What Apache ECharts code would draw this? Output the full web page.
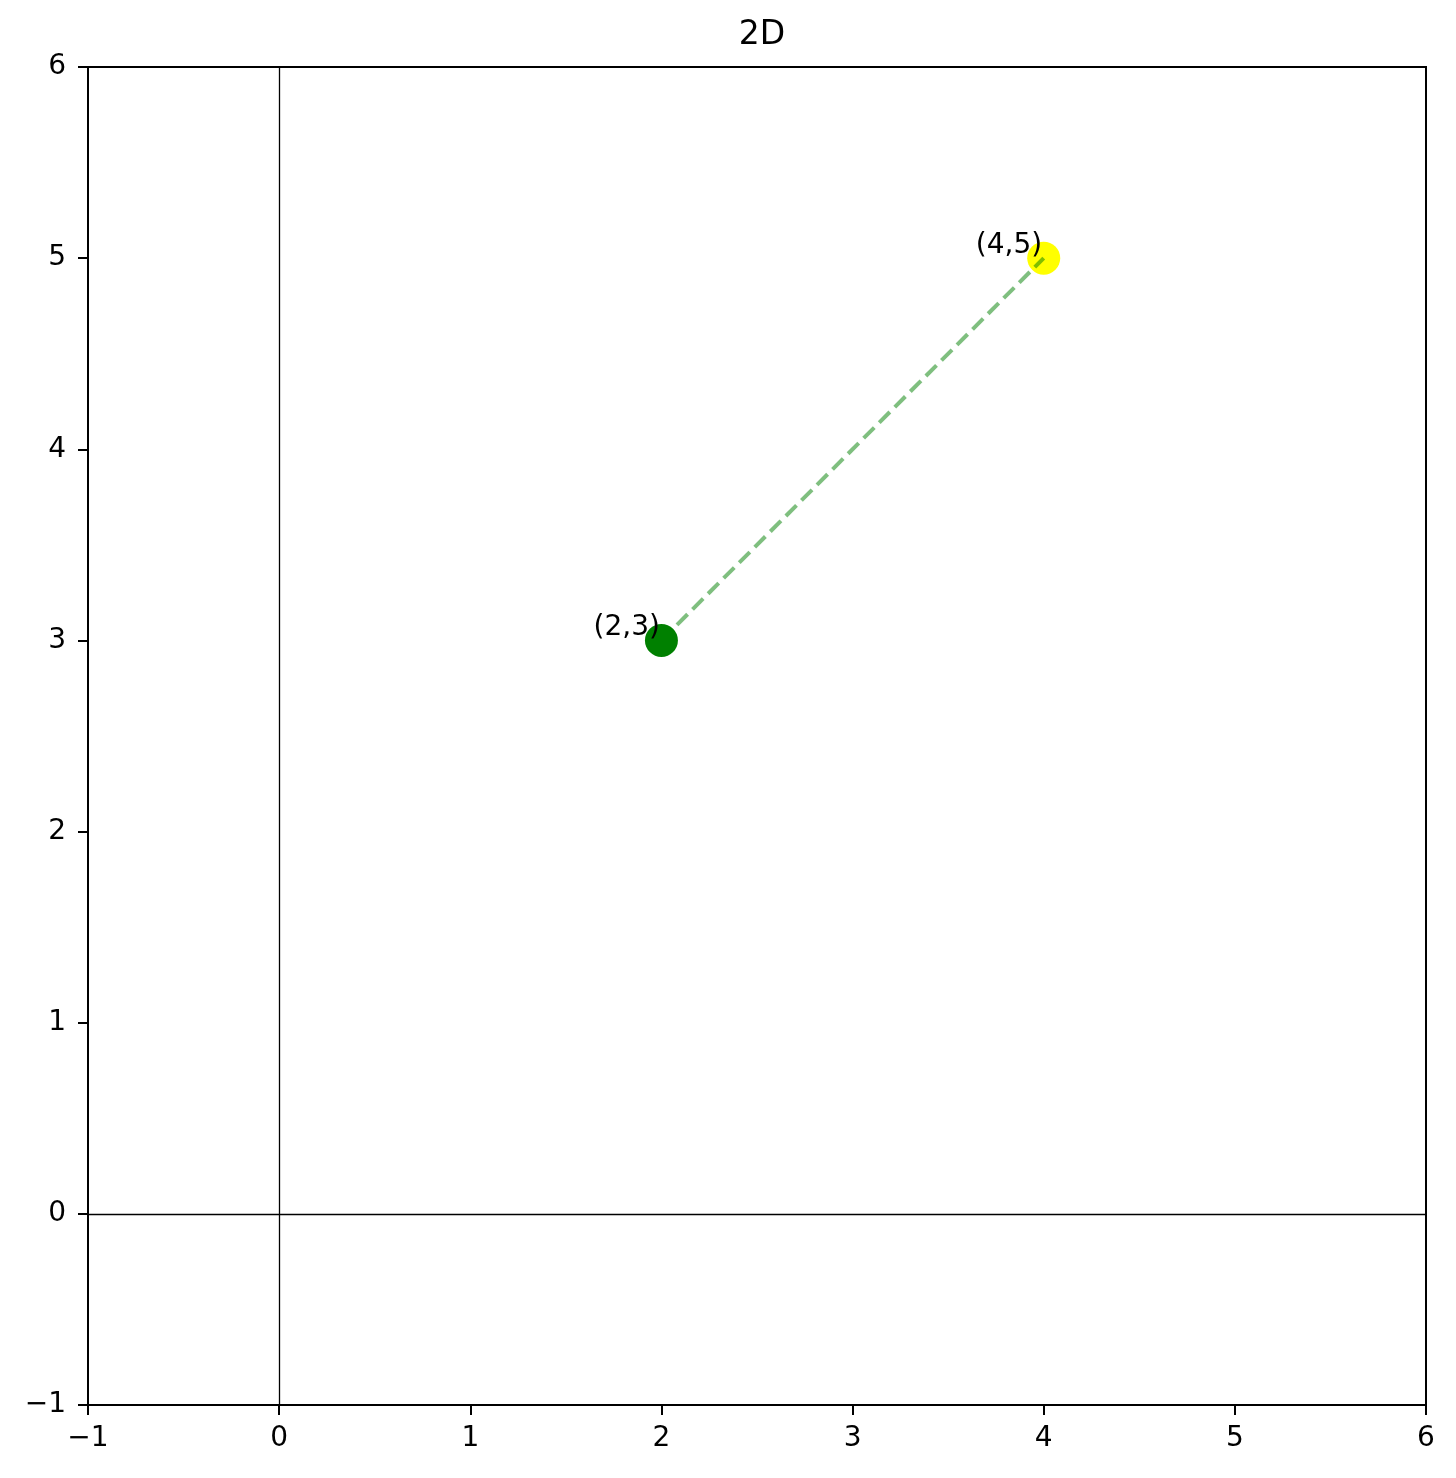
<!DOCTYPE html>
<html><head><meta charset="utf-8">
<script src="https://cdn.jsdelivr.net/npm/echarts@6/dist/echarts.min.js"></script>
<style>html,body{margin:0;padding:0;background:#fff}#c{width:1456px;height:1478px}</style>
</head><body><div id="c"></div>
<script>
const xTicks = [-1, 0, 1, 2, 3, 4, 5, 6];
const yTicks = [-1, 0, 1, 2, 3, 4, 5, 6];
const pointA = [2, 3];
const pointB = [4, 5];
const labels = ['(2,3)', '(4,5)'];
const colors = ['#008000', '#ffff00'];

const font = 'DejaVu Sans';
const chart = echarts.init(document.getElementById('c'));
const axisCommon = {
  type: 'value', min: -1, max: 6, interval: 1,
  axisLine: {show: true, onZero: false, lineStyle: {color: '#000', width: 2}},
  axisTick: {show: true, inside: false, length: 10, lineStyle: {color: '#000', width: 2}},
  splitLine: {show: false},
  axisLabel: {color: '#000', fontSize: 28, fontFamily: font,
    formatter: v => (v < 0 ? '\u2212' + Math.abs(v) : String(v))}
};
const pts = [pointA, pointB];
chart.setOption({
  animation: false,
  title: {text: '2D', left: 757, textAlign: 'center', top: 14, textStyle: {fontFamily: font, fontSize: 33, fontWeight: 'normal', color: '#000'}},
  grid: {left: 88, top: 67, width: 1338, height: 1338, show: true, borderColor: '#000', borderWidth: 2, backgroundColor: 'transparent'},
  xAxis: Object.assign({}, axisCommon, {position: 'bottom', axisLabel: Object.assign({}, axisCommon.axisLabel, {margin: 20})}),
  yAxis: Object.assign({}, axisCommon, {position: 'left', axisLabel: Object.assign({}, axisCommon.axisLabel, {margin: 22})}),
  series: [
    {
      type: 'line', data: [], silent: true,
      markLine: {silent: true, symbol: 'none', label: {show: false},
        lineStyle: {color: '#000', width: 1.3, type: 'solid'},
        data: [{xAxis: 0}, {yAxis: 0}]}
    },
    ...pts.map((p, i) => ({
      type: 'scatter', data: [p], symbolSize: 33, z: 3,
      itemStyle: {color: colors[i], opacity: 1},
      label: {show: true, formatter: labels[i], position: [15, 18], align: 'right', verticalAlign: 'bottom',
        color: '#000', fontSize: 28, fontFamily: font}
    })),
    {
      type: 'line', data: pts, symbol: 'none', z: 4,
      lineStyle: {color: 'rgba(0,128,0,0.5)', width: 4, type: [15, 7]}
    }
  ]
});
</script></body></html>
